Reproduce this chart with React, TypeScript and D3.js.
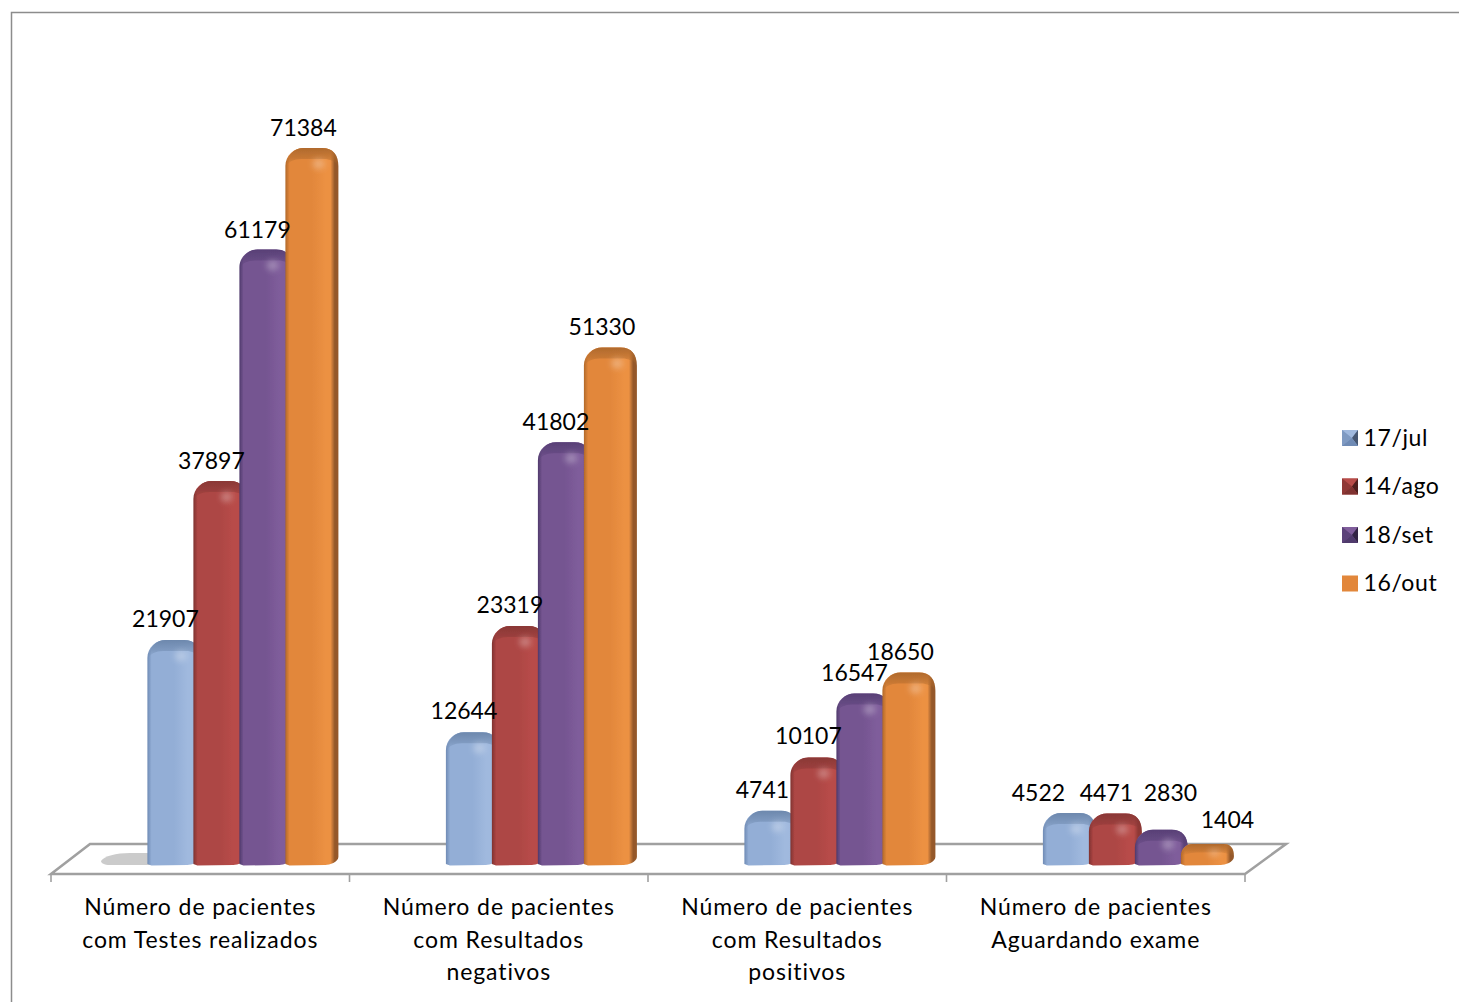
import React from "react";
import * as d3 from "d3";

const categories = [
  ["Número de pacientes", "com Testes realizados"],
  ["Número de pacientes", "com Resultados", "negativos"],
  ["Número de pacientes", "com Resultados", "positivos"],
  ["Número de pacientes", "Aguardando exame"],
];
const seriesNames = ["17/jul", "14/ago", "18/set", "16/out"];
const jul = [21907, 12644, 4741, 4522];
const ago = [37897, 23319, 10107, 4471];
const set = [61179, 41802, 16547, 2830];
const out = [71384, 51330, 18650, 1404];
const allSeries = [jul, ago, set, out];

const palette = [
  { dark: "#6f8bb5", base: "#93aed6", light: "#a0b9de", side: "#7f9ac2", top: "#6d88ad" },
  { dark: "#7f3230", base: "#ad4644", light: "#b84c49", side: "#8f3836", top: "#8a3836" },
  { dark: "#4f3a6c", base: "#755591", light: "#7f5d9b", side: "#5b4279", top: "#584076" },
  { dark: "#b2692a", base: "#e2873b", light: "#ec9143", side: "#95592a", top: "#b06a2d" },
];

// small per-bar nudges of the data labels, as in the source chart
const labelDx = [
  [-8.5, -8.5, -8.5, -8.5],
  [-8.5, -8.5, -8.5, -8.5],
  [-8.5, -8.5, -8.5, -8.5],
  [-31, -9, 9, 20],
];
const labelDy = [
  [-13, -12, -12, -12],
  [-13, -13, -12, -12],
  [-13, -13, -12, -13],
  [-12, -13, -29, -16],
];

const W = 1459, H = 1002;
const FONT = "Lato, Carlito, Calibri, sans-serif";
const floorL = 51, floorR = 1245, floorY = 874, backY = 844, depthLeft = 39, depthRight = 41;
const baseY = 865, barW = 46, barD = 7;

const y = d3.scaleLinear().domain([0, 71384]).range([858, 148]);
const x0 = d3.scaleBand<number>().domain([0, 1, 2, 3]).range([floorL, floorR]);
const x1 = d3.scaleLinear().domain([0, 4]).range([96.4, 96.4 + 4 * barW]);

function barPath(x: number, top: number) {
  const h = baseY - top;
  const r = Math.min(18, h * 0.55);
  const w = barW + barD;
  const p = d3.path();
  p.moveTo(x, baseY - 1);
  p.lineTo(x, top + r);
  p.bezierCurveTo(x, top + r * 0.4, x + r * 0.5, top, x + r, top);
  p.lineTo(x + w - r * 0.9, top);
  p.bezierCurveTo(x + w - r * 0.3, top, x + w, top + r * 0.4, x + w, top + r);
  p.lineTo(x + w, baseY - 8);
  p.bezierCurveTo(x + w, baseY - 3, x + w - 9, baseY, x + barW - 6, baseY);
  p.lineTo(x + 4, baseY + 0.5);
  p.closePath();
  return p.toString();
}

function capPath(x: number, top: number) {
  const h = baseY - top;
  const r = Math.min(18, h * 0.55);
  const c = Math.min(11, h * 0.4);
  const w = barW + barD;
  const p = d3.path();
  p.moveTo(x + 1, top + r);
  p.bezierCurveTo(x + 1, top + r * 0.4, x + r * 0.5, top, x + r, top);
  p.lineTo(x + w - r * 0.9, top);
  p.bezierCurveTo(x + w - r * 0.3, top, x + w, top + r * 0.4, x + w, top + r);
  p.bezierCurveTo(x + w - 2, top + c + 2, x + w - 10, top + c, x + w - 14, top + c);
  p.lineTo(x + 16, top + c);
  p.bezierCurveTo(x + 8, top + c, x + 3, top + c + 3, x + 1, top + r);
  p.closePath();
  return p.toString();
}

function Bevel({ x, yy, i }: { x: number; yy: number; i: number }) {
  const s = 16, c = palette[i];
  if (i === 3) return <rect x={x} y={yy} width={s} height={s} fill={c.base} />;
  const mx = x + s * 0.62, my = yy + s * 0.5;
  return (
    <g>
      <rect x={x} y={yy} width={s} height={s} fill={c.base} />
      <path d={`M${x},${yy}L${x + s},${yy}L${mx},${my}Z`} fill={c.light} />
      <path d={`M${x + s},${yy}L${x + s},${yy + s}L${mx},${my}Z`} fill={d3.color(c.dark)!.darker(1.3).toString()} />
      <path d={`M${x},${yy}L${x},${yy + s}L${mx},${my}Z`} fill={c.side} />
      <path d={`M${x},${yy + s}L${x + s},${yy + s}L${mx},${my}Z`} fill={c.dark} />
    </g>
  );
}

export default function App() {
  const ticks = [0, 1, 2, 3].map((g) => x0(g)!).concat(floorR);
  const floor = `M${floorL},${floorY}L${floorL + depthLeft},${backY}L${floorR + depthRight},${backY}L${floorR},${floorY}Z`;
  return (
    <svg width={W} height={H} viewBox={`0 0 ${W} ${H}`}
      style={{ position: "absolute", left: 0, top: 0, display: "block", background: "#fff" }}
      fontFamily={FONT}>
      <defs>
        {palette.map((c, i) => (
          <React.Fragment key={i}>
            <linearGradient id={`body${i}`} x1="0" x2="1" y1="0" y2="0">
              <stop offset="0" stopColor={c.dark} />
              <stop offset="0.08" stopColor={c.base} />
              <stop offset="0.5" stopColor={c.base} />
              <stop offset="0.76" stopColor={c.light} />
              <stop offset="0.85" stopColor={c.light} />
              <stop offset="0.93" stopColor={c.side} />
              <stop offset="1" stopColor={c.side} />
            </linearGradient>
            <linearGradient id={`cap${i}`} x1="0" x2="0" y1="0" y2="1">
              <stop offset="0" stopColor={c.top} />
              <stop offset="0.55" stopColor={c.top} stopOpacity={0.55} />
              <stop offset="1" stopColor={c.top} stopOpacity={0} />
            </linearGradient>
          </React.Fragment>
        ))}
        <filter id="soft" x="-50%" y="-50%" width="200%" height="200%">
          <feGaussianBlur stdDeviation="3" />
        </filter>
        <filter id="edge" x="-5%" y="-5%" width="110%" height="110%">
          <feGaussianBlur stdDeviation="0.6" />
        </filter>
      </defs>

      <path d={`M${W},12.5L11.5,12.5L11.5,${H}`} fill="none" stroke="#8c8c8c" strokeWidth={1.5} />

      <path d={floor} fill="#fff" stroke="#a0a0a0" strokeWidth={2.6} />
      {ticks.map((t, i) => (
        <line key={i} x1={t} x2={t} y1={floorY} y2={floorY + 8} stroke="#a0a0a0" strokeWidth={1.6} />
      ))}

      <path d="M101,861C104,856 116,853 130,853L150,853L150,865L110,865C104,865 101,863 101,861Z" fill="#cbcbcb" filter="url(#edge)" />

      {[0, 1, 2, 3].map((g) => (
        <g key={g}>
          {allSeries.map((vals, s) => {
            const bx = x0(g)! + x1(s);
            const top = y(vals[g]);
            const h = baseY - top;
            return (
              <g key={s} filter="url(#edge)">
                <path d={barPath(bx, top)} fill={`url(#body${s})`} />
                <path d={capPath(bx, top)} fill={`url(#cap${s})`} />
                <ellipse cx={bx + barW * 0.72} cy={top + Math.min(16, h * 0.42)} rx={6}
                  ry={Math.min(5, h * 0.16)} fill="#fff" opacity={0.3} filter="url(#soft)" />
              </g>
            );
          })}
        </g>
      ))}

      {[0, 1, 2, 3].map((g) =>
        allSeries.map((vals, s) => (
          <text key={`${g}-${s}`} x={x0(g)! + x1(s) + (barW + barD) / 2 + labelDx[g][s]}
            y={y(vals[g]) + labelDy[g][s]} textAnchor="middle" fontSize={23} fill="#000">
            {vals[g]}
          </text>
        ))
      )}

      {categories.map((lines, g) => (
        <text key={g} textAnchor="middle" fontSize={23} letterSpacing={0.9} fill="#000">
          {lines.map((l, k) => (
            <tspan key={k} x={x0(g)! + x0.bandwidth() / 2} y={915 + k * 32.5}>{l}</tspan>
          ))}
        </text>
      ))}

      {seriesNames.map((n, i) => (
        <g key={n}>
          <Bevel x={1342} yy={430 + i * 48.5} i={i} />
          <text x={1363.5} y={445.5 + i * 48.5} fontSize={23} letterSpacing={0.6} fill="#000">{n}</text>
        </g>
      ))}
    </svg>
  );
}
